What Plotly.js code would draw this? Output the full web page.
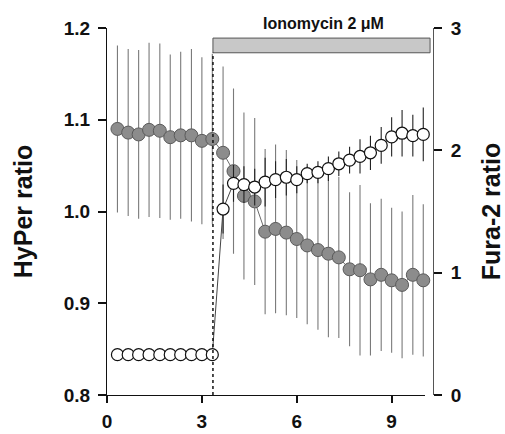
<!DOCTYPE html>
<html>
<head>
<meta charset="utf-8">
<script src="https://cdn.plot.ly/plotly-3.0.1.min.js"></script>
<style>
html,body{margin:0;padding:0;background:#fff;}
#chart{width:505px;height:434px;}
</style>
</head>
<body>
<div id="chart"></div>
<script>
// time (min)
const time = [0.33,0.67,1.00,1.33,1.67,2.00,2.33,2.67,3.00,3.33,
              3.67,4.00,4.33,4.67,5.00,5.33,5.67,6.00,6.33,6.67,
              7.00,7.33,7.67,8.00,8.33,8.67,9.00,9.33,9.67,10.00];
// HyPer ratio (left axis), mean and error
const hyper = [1.090,1.086,1.084,1.089,1.088,1.081,1.083,1.083,1.077,1.079,
               1.064,1.044,1.017,1.011,0.978,0.981,0.977,0.970,0.963,0.958,
               0.954,0.950,0.937,0.936,0.926,0.931,0.925,0.920,0.931,0.925];
const hyperErr = [0.091,0.091,0.092,0.095,0.095,0.090,0.091,0.094,0.091,0.093,
                  0.094,0.090,0.091,0.091,0.090,0.092,0.090,0.086,0.086,0.087,
                  0.091,0.088,0.084,0.093,0.083,0.083,0.079,0.080,0.087,0.083];
// Fura-2 ratio (right axis), mean and error
const fura = [0.33,0.33,0.33,0.33,0.33,0.33,0.33,0.33,0.33,0.33,
              1.52,1.73,1.72,1.70,1.74,1.76,1.78,1.76,1.81,1.82,
              1.85,1.89,1.92,1.95,1.98,2.04,2.11,2.14,2.12,2.13];
const furaErr = [0.02,0.02,0.02,0.02,0.02,0.02,0.02,0.02,0.02,0.02,
                 0.20,0.15,0.15,0.15,0.20,0.15,0.15,0.11,0.08,0.09,
                 0.10,0.10,0.11,0.14,0.14,0.15,0.16,0.19,0.17,0.22];
// annotations
const ionoStart = 3.35;
const ionoLabel = "Ionomycin 2 \u03bcM";
const xTicks = [0,3,6,9];
const yTicks = [0.8,0.9,1.0,1.1,1.2];
const yTickText = ["0.8","0.9","1.0","1.1","1.2"];
const y2Ticks = [0,1,2,3];

const xRange = [0, 10.05];
const xDomainEnd = 0.975;
const FONT = "Liberation Sans, Arial, Helvetica, sans-serif";

const traces = [
  {
    x: time, y: hyper, type: "scatter", mode: "lines+markers", yaxis: "y",
    line: {color: "#6a6a6a", width: 1},
    marker: {size: 13, color: "#8c8c8c", line: {color: "#5a5a5a", width: 1}},
    error_y: {type: "data", array: hyperErr, visible: true, color: "#7a7a7a", thickness: 1.1, width: 0},
    cliponaxis: false, showlegend: false, hoverinfo: "skip"
  },
  {
    x: time, y: fura, type: "scatter", mode: "lines+markers", yaxis: "y2",
    line: {color: "#444", width: 1},
    marker: {size: 12, color: "#ffffff", line: {color: "#111", width: 1.2}},
    error_y: {type: "data", array: furaErr, visible: true, color: "#222", thickness: 1.1, width: 0},
    cliponaxis: false, showlegend: false, hoverinfo: "skip"
  }
];

function toPaperX(v){ return (v - xRange[0]) / (xRange[1] - xRange[0]) * xDomainEnd; }

const tickFont = {family: FONT, size: 19, color: "#111", weight: "bold"};
const titleFont = {family: FONT, size: 25, color: "#111", weight: "bold"};

const layout = {
  width: 505, height: 434,
  margin: {l: 107, r: 72, t: 28, b: 39},
  paper_bgcolor: "#fff", plot_bgcolor: "#fff",
  xaxis: {
    domain: [0, xDomainEnd], range: xRange,
    tickvals: xTicks, ticks: "outside", ticklen: 7, tickwidth: 2, tickcolor: "#111",
    showline: true, linecolor: "#111", linewidth: 1,
    showgrid: false, zeroline: false, tickfont: tickFont, ticklabelstandoff: 2
  },
  yaxis: {
    range: [0.8, 1.2], tickvals: yTicks, ticktext: yTickText,
    ticks: "outside", ticklen: 8, tickwidth: 2, tickcolor: "#111",
    showline: true, linecolor: "#111", linewidth: 1,
    showgrid: false, zeroline: false, tickfont: tickFont, ticklabelstandoff: 4,
    title: {text: "HyPer ratio", font: titleFont, standoff: 24}
  },
  yaxis2: {
    range: [0, 3], tickvals: y2Ticks, overlaying: "y", side: "right",
    anchor: "free", position: 1,
    ticks: "outside", ticklen: 8, tickwidth: 2, tickcolor: "#111",
    showline: true, linecolor: "#555", linewidth: 1,
    showgrid: false, zeroline: false, tickfont: tickFont, ticklabelstandoff: 5,
    title: {text: "Fura-2 ratio", font: titleFont, standoff: 22}
  },
  shapes: [
    {type: "rect", xref: "paper", yref: "y",
     x0: toPaperX(ionoStart), x1: 0.991, y0: 1.173, y1: 1.189,
     fillcolor: "#c8c8c8", line: {color: "#555", width: 1}},
    {type: "line", xref: "x", yref: "y",
     x0: ionoStart, x1: ionoStart, y0: 0.8, y1: 1.173,
     line: {color: "#111", width: 1.5, dash: "dot"}}
  ],
  annotations: [
    {text: ionoLabel, xref: "paper", yref: "paper", x: 0.663, y: 1.011,
     xanchor: "center", yanchor: "middle", showarrow: false,
     font: {family: FONT, size: 16, color: "#111", weight: "bold"}}
  ]
};

Plotly.newPlot("chart", traces, layout, {displayModeBar: false, staticPlot: true});
</script>
</body>
</html>
